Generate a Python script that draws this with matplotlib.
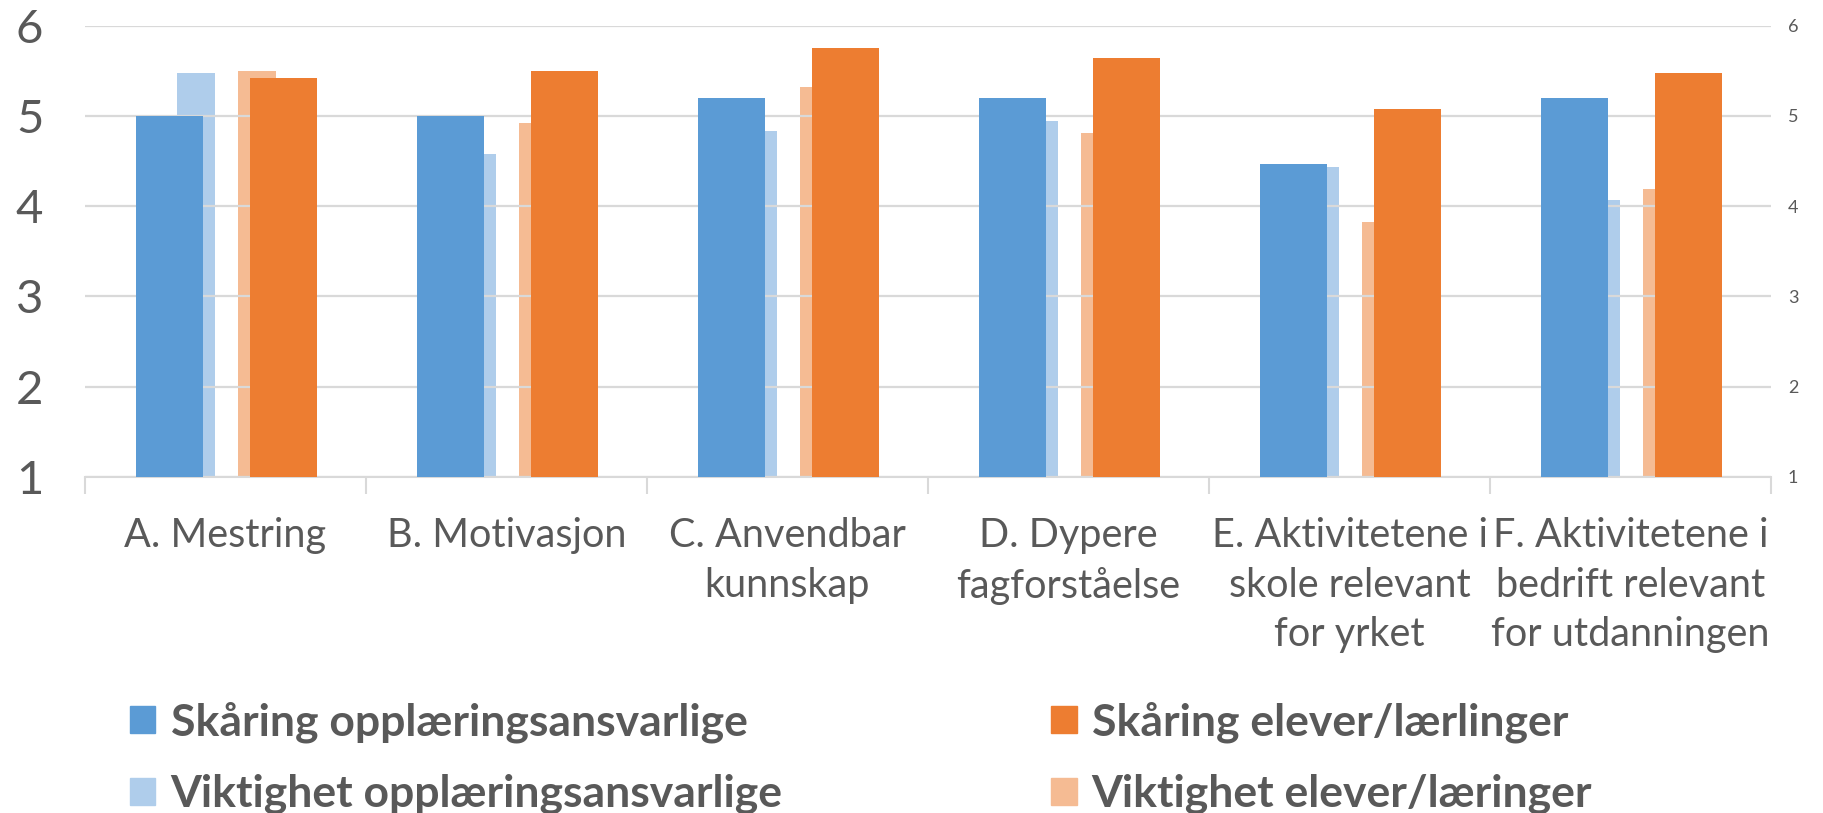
import matplotlib
matplotlib.use("Agg")
import matplotlib.pyplot as plt
import numpy as np
from matplotlib.patches import Patch

categories = ["A. Mestring", "B. Motivasjon", "C. Anvendbar\nkunnskap", "D. Dypere\nfagforståelse",
              "E. Aktivitetene i\nskole relevant\nfor yrket", "F. Aktivitetene i\nbedrift relevant\nfor utdanningen"]
skaring_oppl = [5.00, 5.00, 5.20, 5.20, 4.47, 5.20]
skaring_elev = [5.42, 5.50, 5.75, 5.64, 5.08, 5.48]
viktighet_oppl = [5.47, 4.58, 4.83, 4.94, 4.43, 4.07]
viktighet_elev = [5.50, 4.92, 5.32, 4.81, 3.83, 4.19]
yticks = [1, 2, 3, 4, 5, 6]

c_blue = "#5B9BD5"
c_orange = "#ED7D31"
c_lblue = "#AFCDEB"
c_lorange = "#F5BB93"
txt = "#595959"
grid = "#D9D9D9"

plt.rcParams['font.family'] = ['Lato', 'DejaVu Sans']

fig = plt.figure(figsize=(18.23, 8.13), dpi=100)
ax = fig.add_axes([0.0466, 0.4133, 0.9249, 0.5552])
ax2 = ax.twinx()
ax.set_zorder(ax2.get_zorder() + 1)
ax.patch.set_visible(False)

x = np.arange(len(categories))
# light (Viktighet) bars on secondary axis
ax2.bar(x - 0.105, viktighet_oppl, width=0.135, color=c_lblue, zorder=2)
ax2.bar(x + 0.112, viktighet_elev, width=0.135, color=c_lorange, zorder=2)
# dark (Skåring) bars on primary axis
ax.bar(x - 0.20, skaring_oppl, width=0.238, color=c_blue, zorder=3)
ax.bar(x + 0.206, skaring_elev, width=0.238, color=c_orange, zorder=3)

for a in (ax, ax2):
    a.set_ylim(1, 6)
    a.set_xlim(-0.5, len(categories) - 0.5)
    for s in a.spines.values():
        s.set_visible(False)
ax.spines['bottom'].set_visible(True)
ax.spines['bottom'].set_color(grid)
ax.spines['bottom'].set_linewidth(1.5)

ax.set_yticks(yticks)
ax.set_yticklabels([str(v) for v in yticks], fontsize=34, color=txt)
ax.tick_params(axis='y', length=0, pad=30)
ax2.set_yticks(yticks)
ax2.set_yticklabels([str(v) for v in yticks], fontsize=13, color=txt)
ax2.tick_params(axis='y', length=0, pad=12)

ax.yaxis.grid(True, color=grid, linewidth=1.6, zorder=1)
ax.set_axisbelow(True)

ax.set_xticks(x)
ax.set_xticklabels(categories, fontsize=28.5, color=txt, linespacing=1.42)
ax.tick_params(axis='x', which='major', length=0, pad=29)
ax.set_xticks(np.arange(-0.5, len(categories)), minor=True)
ax.tick_params(axis='x', which='minor', length=12, width=1.5, color=grid)

handles = [Patch(color=c_blue, label="Skåring opplæringsansvarlige"),
           Patch(color=c_lblue, label="Viktighet opplæringsansvarlige"),
           Patch(color=c_orange, label="Skåring elever/lærlinger"),
           Patch(color=c_lorange, label="Viktighet elever/læringer")]
leg = fig.legend(handles=handles, ncol=2, loc='lower left', bbox_to_anchor=(0.0493, -0.051),
                 frameon=False, prop={'size': 32, 'weight': 'bold'}, labelcolor=txt,
                 handlelength=0.575, handleheight=0.575, handletextpad=0.34,
                 columnspacing=6.04, labelspacing=0.7)

fig.savefig("out.png", dpi=100)
